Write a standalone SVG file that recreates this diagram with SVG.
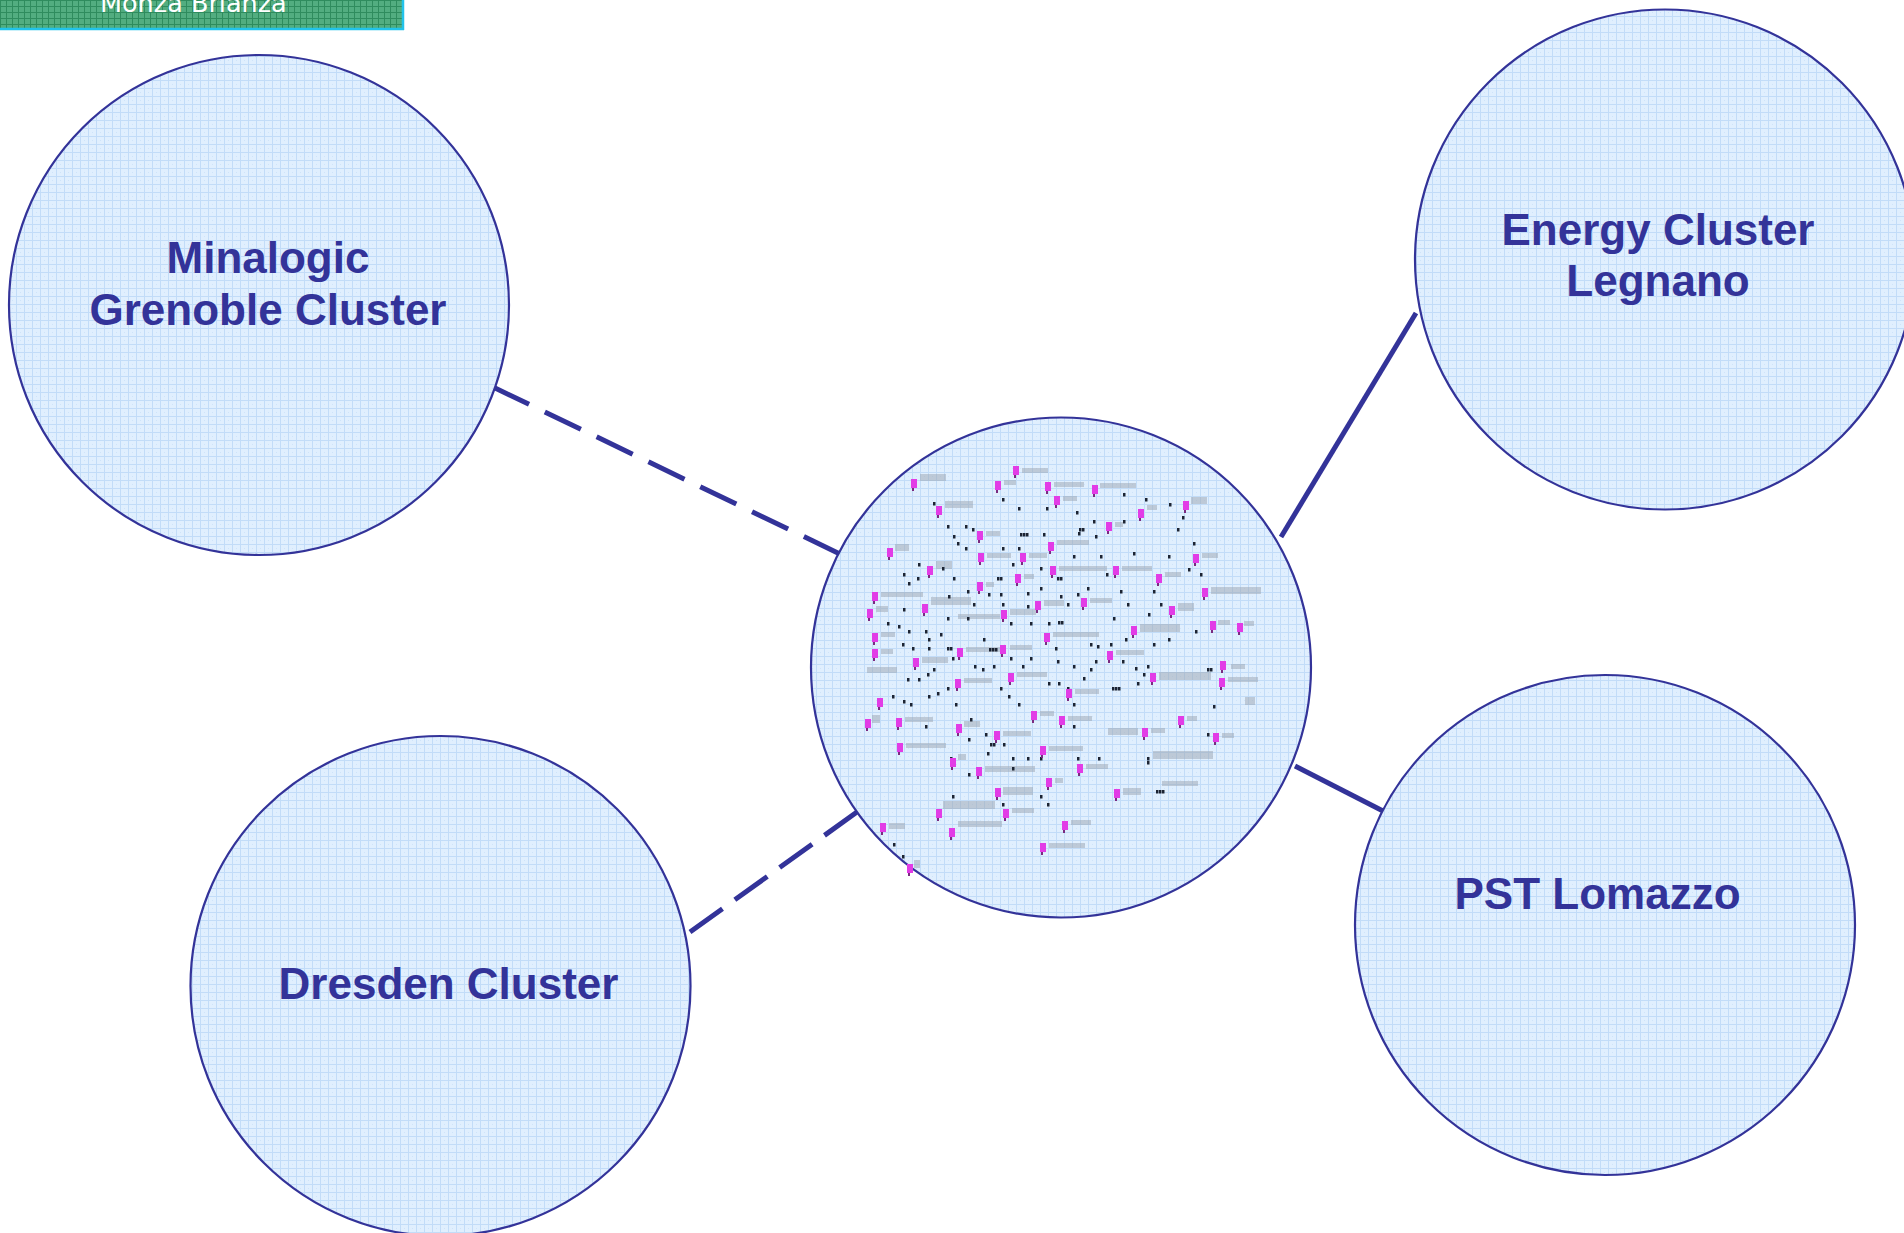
<svg xmlns="http://www.w3.org/2000/svg" xmlns:xlink="http://www.w3.org/1999/xlink" width="1904" height="1233" viewBox="0 0 1904 1233">
<defs>
<pattern id="blueGrid" width="8" height="8" patternUnits="userSpaceOnUse">
<rect width="8" height="8" fill="#e0effe"/>
<rect x="0" y="0" width="8" height="1" fill="#c2dcf8"/>
<rect x="0" y="0" width="1" height="8" fill="#c2dcf8"/>
<rect x="4" y="4" width="1" height="1" fill="#cfe4fa"/>
</pattern>
<pattern id="greenGrid" width="6" height="6" patternUnits="userSpaceOnUse">
<rect width="6" height="6" fill="#52ad80"/>
<rect x="0" y="0" width="6" height="1" fill="#2f8c5e"/>
<rect x="0" y="0" width="1" height="6" fill="#2f8c5e"/>
</pattern>
<g id="m"><rect x="0" y="0" width="6" height="9" fill="#e23ce6"/><rect x="1" y="9" width="2" height="3" fill="#7a2a80"/></g>
<rect id="d" x="0" y="0" width="2.5" height="3.5" fill="#1c2433"/>
</defs>
<style>
.node{fill:url(#blueGrid);stroke:#333399;stroke-width:2.2}
.lbl{font-family:"Liberation Sans",Arial,sans-serif;font-weight:bold;font-size:44px;fill:#333399;text-anchor:middle}
.conn{stroke:#333399;stroke-width:5;fill:none}
.gl{fill:#9aa3b0;opacity:0.5}
</style>
<rect width="1904" height="1233" fill="#ffffff"/>

<g id="banner">
<rect x="0" y="-10" width="402" height="39" fill="url(#greenGrid)"/>
<line x1="0" y1="29" x2="404" y2="29" stroke="#22c3ea" stroke-width="2.5"/>
<line x1="403" y1="-10" x2="403" y2="30" stroke="#22c3ea" stroke-width="2.5"/>
<text x="100" y="12" font-family="'DejaVu Sans',Verdana,sans-serif" font-size="25.5" fill="#ffffff">Monza Brianza</text>
</g>

<g id="connectors">
<line class="conn" stroke-dasharray="40 17.5" x1="493" y1="387" x2="840" y2="554"/>
<line class="conn" stroke-dasharray="40 15.2" x1="690" y1="932" x2="857" y2="812"/>
<line class="conn" x1="1281" y1="537" x2="1416" y2="313"/>
<line class="conn" x1="1295" y1="766" x2="1383" y2="811"/>
</g>

<g id="node-minalogic">
<circle class="node" cx="259" cy="305" r="250"/>
<text class="lbl" x="268" y="273">Minalogic</text>
<text class="lbl" x="268" y="325">Grenoble Cluster</text>
</g>

<g id="node-energy">
<circle class="node" cx="1665" cy="259.5" r="250"/>
<text class="lbl" x="1658" y="245">Energy Cluster</text>
<text class="lbl" x="1658" y="296">Legnano</text>
</g>

<g id="node-dresden">
<circle class="node" cx="440.5" cy="986" r="250"/>
<text class="lbl" x="448.5" y="999">Dresden Cluster</text>
</g>

<g id="node-pst">
<circle class="node" cx="1605" cy="925" r="250"/>
<text class="lbl" x="1597.5" y="909">PST Lomazzo</text>
</g>

<g id="node-center">
<circle class="node" cx="1061" cy="667.5" r="250"/>
<g id="net-labels">
<rect class="gl" x="1022" y="468" width="26" height="5"/>
<rect class="gl" x="920" y="474" width="26" height="7"/>
<rect class="gl" x="1004" y="480" width="12" height="5"/>
<rect class="gl" x="1054" y="482" width="30" height="5"/>
<rect class="gl" x="1100" y="483" width="36" height="5"/>
<rect class="gl" x="1063" y="496" width="14" height="5"/>
<rect class="gl" x="1191" y="497" width="16" height="7"/>
<rect class="gl" x="1147" y="505" width="10" height="5"/>
<rect class="gl" x="945" y="501" width="28" height="7"/>
<rect class="gl" x="1115" y="522" width="8" height="5"/>
<rect class="gl" x="986" y="531" width="14" height="5"/>
<rect class="gl" x="1057" y="540" width="32" height="5"/>
<rect class="gl" x="895" y="544" width="14" height="7"/>
<rect class="gl" x="987" y="553" width="24" height="5"/>
<rect class="gl" x="1029" y="553" width="18" height="5"/>
<rect class="gl" x="1202" y="553" width="16" height="5"/>
<rect class="gl" x="936" y="561" width="16" height="8"/>
<rect class="gl" x="1059" y="566" width="48" height="5"/>
<rect class="gl" x="1122" y="566" width="30" height="5"/>
<rect class="gl" x="1024" y="574" width="10" height="5"/>
<rect class="gl" x="1165" y="572" width="16" height="5"/>
<rect class="gl" x="986" y="582" width="8" height="5"/>
<rect class="gl" x="1211" y="587" width="50" height="7"/>
<rect class="gl" x="881" y="592" width="42" height="5"/>
<rect class="gl" x="931" y="597" width="40" height="8"/>
<rect class="gl" x="1044" y="600" width="20" height="6"/>
<rect class="gl" x="1090" y="598" width="22" height="5"/>
<rect class="gl" x="876" y="606" width="12" height="6"/>
<rect class="gl" x="1178" y="603" width="16" height="8"/>
<rect class="gl" x="958" y="614" width="42" height="5"/>
<rect class="gl" x="1010" y="609" width="26" height="6"/>
<rect class="gl" x="1140" y="624" width="40" height="8"/>
<rect class="gl" x="1218" y="620" width="12" height="5"/>
<rect class="gl" x="1244" y="621" width="10" height="5"/>
<rect class="gl" x="881" y="632" width="14" height="5"/>
<rect class="gl" x="1053" y="632" width="46" height="5"/>
<rect class="gl" x="881" y="649" width="12" height="5"/>
<rect class="gl" x="966" y="647" width="34" height="5"/>
<rect class="gl" x="1010" y="645" width="22" height="5"/>
<rect class="gl" x="1116" y="650" width="28" height="5"/>
<rect class="gl" x="922" y="657" width="26" height="6"/>
<rect class="gl" x="1231" y="664" width="14" height="5"/>
<rect class="gl" x="867" y="667" width="30" height="6"/>
<rect class="gl" x="1017" y="672" width="30" height="5"/>
<rect class="gl" x="964" y="678" width="28" height="5"/>
<rect class="gl" x="1159" y="672" width="52" height="8"/>
<rect class="gl" x="1228" y="677" width="30" height="5"/>
<rect class="gl" x="1075" y="689" width="24" height="5"/>
<rect class="gl" x="1245" y="697" width="10" height="8"/>
<rect class="gl" x="872" y="715" width="8" height="8"/>
<rect class="gl" x="905" y="717" width="28" height="5"/>
<rect class="gl" x="1040" y="711" width="14" height="5"/>
<rect class="gl" x="1068" y="716" width="24" height="5"/>
<rect class="gl" x="1187" y="716" width="10" height="5"/>
<rect class="gl" x="964" y="721" width="16" height="6"/>
<rect class="gl" x="1003" y="731" width="28" height="5"/>
<rect class="gl" x="1108" y="728" width="30" height="7"/>
<rect class="gl" x="1151" y="728" width="14" height="5"/>
<rect class="gl" x="1222" y="733" width="12" height="5"/>
<rect class="gl" x="906" y="743" width="40" height="5"/>
<rect class="gl" x="1049" y="746" width="34" height="5"/>
<rect class="gl" x="958" y="754" width="8" height="6"/>
<rect class="gl" x="1153" y="751" width="60" height="8"/>
<rect class="gl" x="1086" y="764" width="22" height="5"/>
<rect class="gl" x="985" y="766" width="50" height="6"/>
<rect class="gl" x="1055" y="778" width="8" height="5"/>
<rect class="gl" x="1003" y="787" width="30" height="8"/>
<rect class="gl" x="1123" y="788" width="18" height="7"/>
<rect class="gl" x="1162" y="781" width="36" height="5"/>
<rect class="gl" x="943" y="801" width="52" height="8"/>
<rect class="gl" x="1012" y="808" width="22" height="5"/>
<rect class="gl" x="889" y="823" width="16" height="6"/>
<rect class="gl" x="958" y="821" width="44" height="6"/>
<rect class="gl" x="1071" y="820" width="20" height="5"/>
<rect class="gl" x="1049" y="843" width="36" height="5"/>
<rect class="gl" x="914" y="860" width="6" height="8"/>
</g>
<g id="net-dots">
<use href="#d" x="933" y="502"/><use href="#d" x="1002" y="498"/><use href="#d" x="1018" y="507"/><use href="#d" x="1046" y="507"/>
<use href="#d" x="1123" y="493"/><use href="#d" x="1145" y="498"/><use href="#d" x="1169" y="503"/><use href="#d" x="1076" y="511"/>
<use href="#d" x="1093" y="520"/><use href="#d" x="1123" y="520"/><use href="#d" x="1182" y="516"/><use href="#d" x="947" y="525"/>
<use href="#d" x="965" y="525"/><use href="#d" x="972" y="528"/><use href="#d" x="1020" y="533"/><use href="#d" x="1023" y="533"/>
<use href="#d" x="1026" y="533"/><use href="#d" x="1043" y="533"/><use href="#d" x="1079" y="528"/><use href="#d" x="1082" y="528"/>
<use href="#d" x="1095" y="535"/><use href="#d" x="1177" y="528"/><use href="#d" x="953" y="535"/><use href="#d" x="957" y="542"/>
<use href="#d" x="965" y="547"/><use href="#d" x="1002" y="547"/><use href="#d" x="1018" y="547"/><use href="#d" x="1073" y="555"/>
<use href="#d" x="1100" y="555"/><use href="#d" x="1133" y="552"/><use href="#d" x="1168" y="555"/><use href="#d" x="1193" y="542"/>
<use href="#d" x="918" y="563"/><use href="#d" x="942" y="567"/><use href="#d" x="1012" y="563"/><use href="#d" x="1040" y="567"/>
<use href="#d" x="1106" y="573"/><use href="#d" x="1188" y="568"/><use href="#d" x="1200" y="573"/><use href="#d" x="903" y="573"/>
<use href="#d" x="917" y="577"/><use href="#d" x="953" y="577"/><use href="#d" x="997" y="577"/><use href="#d" x="1000" y="577"/>
<use href="#d" x="1057" y="577"/><use href="#d" x="1060" y="577"/><use href="#d" x="908" y="582"/><use href="#d" x="967" y="590"/>
<use href="#d" x="988" y="593"/><use href="#d" x="1000" y="593"/><use href="#d" x="1027" y="592"/><use href="#d" x="1040" y="587"/>
<use href="#d" x="1087" y="587"/><use href="#d" x="1120" y="590"/><use href="#d" x="1153" y="590"/><use href="#d" x="1060" y="595"/>
<use href="#d" x="1077" y="593"/><use href="#d" x="948" y="595"/><use href="#d" x="973" y="603"/><use href="#d" x="1002" y="603"/>
<use href="#d" x="1027" y="605"/><use href="#d" x="1067" y="603"/><use href="#d" x="1127" y="603"/><use href="#d" x="1160" y="603"/>
<use href="#d" x="903" y="608"/><use href="#d" x="947" y="617"/><use href="#d" x="967" y="617"/><use href="#d" x="1010" y="622"/>
<use href="#d" x="1030" y="622"/><use href="#d" x="1048" y="622"/><use href="#d" x="1058" y="621"/><use href="#d" x="1061" y="621"/>
<use href="#d" x="1113" y="617"/><use href="#d" x="1148" y="613"/><use href="#d" x="887" y="622"/><use href="#d" x="898" y="625"/>
<use href="#d" x="908" y="630"/><use href="#d" x="925" y="630"/><use href="#d" x="940" y="633"/><use href="#d" x="928" y="638"/>
<use href="#d" x="983" y="638"/><use href="#d" x="1090" y="643"/><use href="#d" x="1110" y="643"/><use href="#d" x="1125" y="638"/>
<use href="#d" x="1153" y="643"/><use href="#d" x="1168" y="638"/><use href="#d" x="1195" y="630"/><use href="#d" x="902" y="643"/>
<use href="#d" x="912" y="647"/><use href="#d" x="928" y="647"/><use href="#d" x="947" y="647"/><use href="#d" x="950" y="647"/>
<use href="#d" x="989" y="648"/><use href="#d" x="992" y="648"/><use href="#d" x="995" y="648"/><use href="#d" x="1055" y="647"/>
<use href="#d" x="1097" y="645"/><use href="#d" x="952" y="657"/><use href="#d" x="1010" y="657"/><use href="#d" x="1030" y="657"/>
<use href="#d" x="1057" y="660"/><use href="#d" x="1095" y="660"/><use href="#d" x="1122" y="660"/><use href="#d" x="933" y="668"/>
<use href="#d" x="974" y="665"/><use href="#d" x="993" y="665"/><use href="#d" x="1022" y="665"/><use href="#d" x="1073" y="665"/>
<use href="#d" x="1090" y="668"/><use href="#d" x="1135" y="667"/><use href="#d" x="1147" y="665"/><use href="#d" x="1207" y="668"/>
<use href="#d" x="1210" y="668"/><use href="#d" x="927" y="673"/><use href="#d" x="982" y="668"/><use href="#d" x="1143" y="673"/>
<use href="#d" x="907" y="678"/><use href="#d" x="918" y="678"/><use href="#d" x="1048" y="682"/><use href="#d" x="1058" y="682"/>
<use href="#d" x="1083" y="677"/><use href="#d" x="1137" y="682"/><use href="#d" x="947" y="687"/><use href="#d" x="1000" y="687"/>
<use href="#d" x="1067" y="687"/><use href="#d" x="1112" y="687"/><use href="#d" x="1115" y="687"/><use href="#d" x="1118" y="687"/>
<use href="#d" x="937" y="692"/><use href="#d" x="892" y="695"/><use href="#d" x="928" y="695"/><use href="#d" x="1008" y="695"/>
<use href="#d" x="903" y="700"/><use href="#d" x="910" y="703"/><use href="#d" x="955" y="703"/><use href="#d" x="1018" y="703"/>
<use href="#d" x="1073" y="703"/><use href="#d" x="1213" y="705"/><use href="#d" x="970" y="718"/><use href="#d" x="925" y="725"/>
<use href="#d" x="1073" y="725"/><use href="#d" x="985" y="733"/><use href="#d" x="1207" y="733"/><use href="#d" x="968" y="738"/>
<use href="#d" x="990" y="743"/><use href="#d" x="993" y="743"/><use href="#d" x="1003" y="743"/><use href="#d" x="950" y="757"/>
<use href="#d" x="987" y="752"/><use href="#d" x="1012" y="757"/><use href="#d" x="1027" y="757"/><use href="#d" x="1040" y="757"/>
<use href="#d" x="1077" y="757"/><use href="#d" x="1098" y="757"/><use href="#d" x="1147" y="757"/><use href="#d" x="1147" y="761"/>
<use href="#d" x="968" y="773"/><use href="#d" x="1040" y="795"/><use href="#d" x="1156" y="790"/><use href="#d" x="1159" y="790"/>
<use href="#d" x="1162" y="790"/><use href="#d" x="952" y="795"/><use href="#d" x="1047" y="803"/><use href="#d" x="1002" y="803"/>
<use href="#d" x="893" y="843"/><use href="#d" x="902" y="855"/><use href="#d" x="1012" y="767"/><use href="#d" x="1078" y="532"/>
</g>
<g id="net-nodes">
<use href="#m" x="1013" y="466"/><use href="#m" x="911" y="479"/><use href="#m" x="995" y="481"/><use href="#m" x="1045" y="482"/>
<use href="#m" x="1092" y="485"/><use href="#m" x="1054" y="496"/><use href="#m" x="1183" y="501"/><use href="#m" x="1138" y="509"/>
<use href="#m" x="936" y="506"/><use href="#m" x="1106" y="522"/><use href="#m" x="977" y="531"/><use href="#m" x="1048" y="542"/>
<use href="#m" x="887" y="548"/><use href="#m" x="978" y="553"/><use href="#m" x="1020" y="553"/><use href="#m" x="1193" y="554"/>
<use href="#m" x="927" y="566"/><use href="#m" x="1050" y="566"/><use href="#m" x="1113" y="566"/><use href="#m" x="1015" y="574"/>
<use href="#m" x="1156" y="574"/><use href="#m" x="977" y="582"/><use href="#m" x="1202" y="588"/><use href="#m" x="872" y="592"/>
<use href="#m" x="922" y="604"/><use href="#m" x="1035" y="601"/><use href="#m" x="1081" y="598"/><use href="#m" x="867" y="609"/>
<use href="#m" x="1169" y="606"/><use href="#m" x="1001" y="610"/><use href="#m" x="1131" y="626"/><use href="#m" x="1210" y="621"/>
<use href="#m" x="1237" y="623"/><use href="#m" x="872" y="633"/><use href="#m" x="1044" y="633"/><use href="#m" x="872" y="649"/>
<use href="#m" x="957" y="648"/><use href="#m" x="1000" y="645"/><use href="#m" x="1107" y="651"/><use href="#m" x="913" y="658"/>
<use href="#m" x="1220" y="661"/><use href="#m" x="1008" y="673"/><use href="#m" x="955" y="679"/><use href="#m" x="1150" y="673"/>
<use href="#m" x="1219" y="678"/><use href="#m" x="1066" y="689"/><use href="#m" x="877" y="698"/><use href="#m" x="865" y="719"/>
<use href="#m" x="896" y="718"/><use href="#m" x="1031" y="711"/><use href="#m" x="1059" y="716"/><use href="#m" x="1178" y="716"/>
<use href="#m" x="956" y="724"/><use href="#m" x="994" y="731"/><use href="#m" x="1142" y="728"/><use href="#m" x="1213" y="733"/>
<use href="#m" x="897" y="743"/><use href="#m" x="1040" y="746"/><use href="#m" x="950" y="758"/><use href="#m" x="1077" y="764"/>
<use href="#m" x="976" y="767"/><use href="#m" x="1046" y="778"/><use href="#m" x="995" y="788"/><use href="#m" x="1114" y="789"/>
<use href="#m" x="936" y="809"/><use href="#m" x="1003" y="809"/><use href="#m" x="880" y="823"/><use href="#m" x="949" y="828"/>
<use href="#m" x="1062" y="821"/><use href="#m" x="1040" y="843"/><use href="#m" x="907" y="864"/>
</g>
</g>
</svg>
